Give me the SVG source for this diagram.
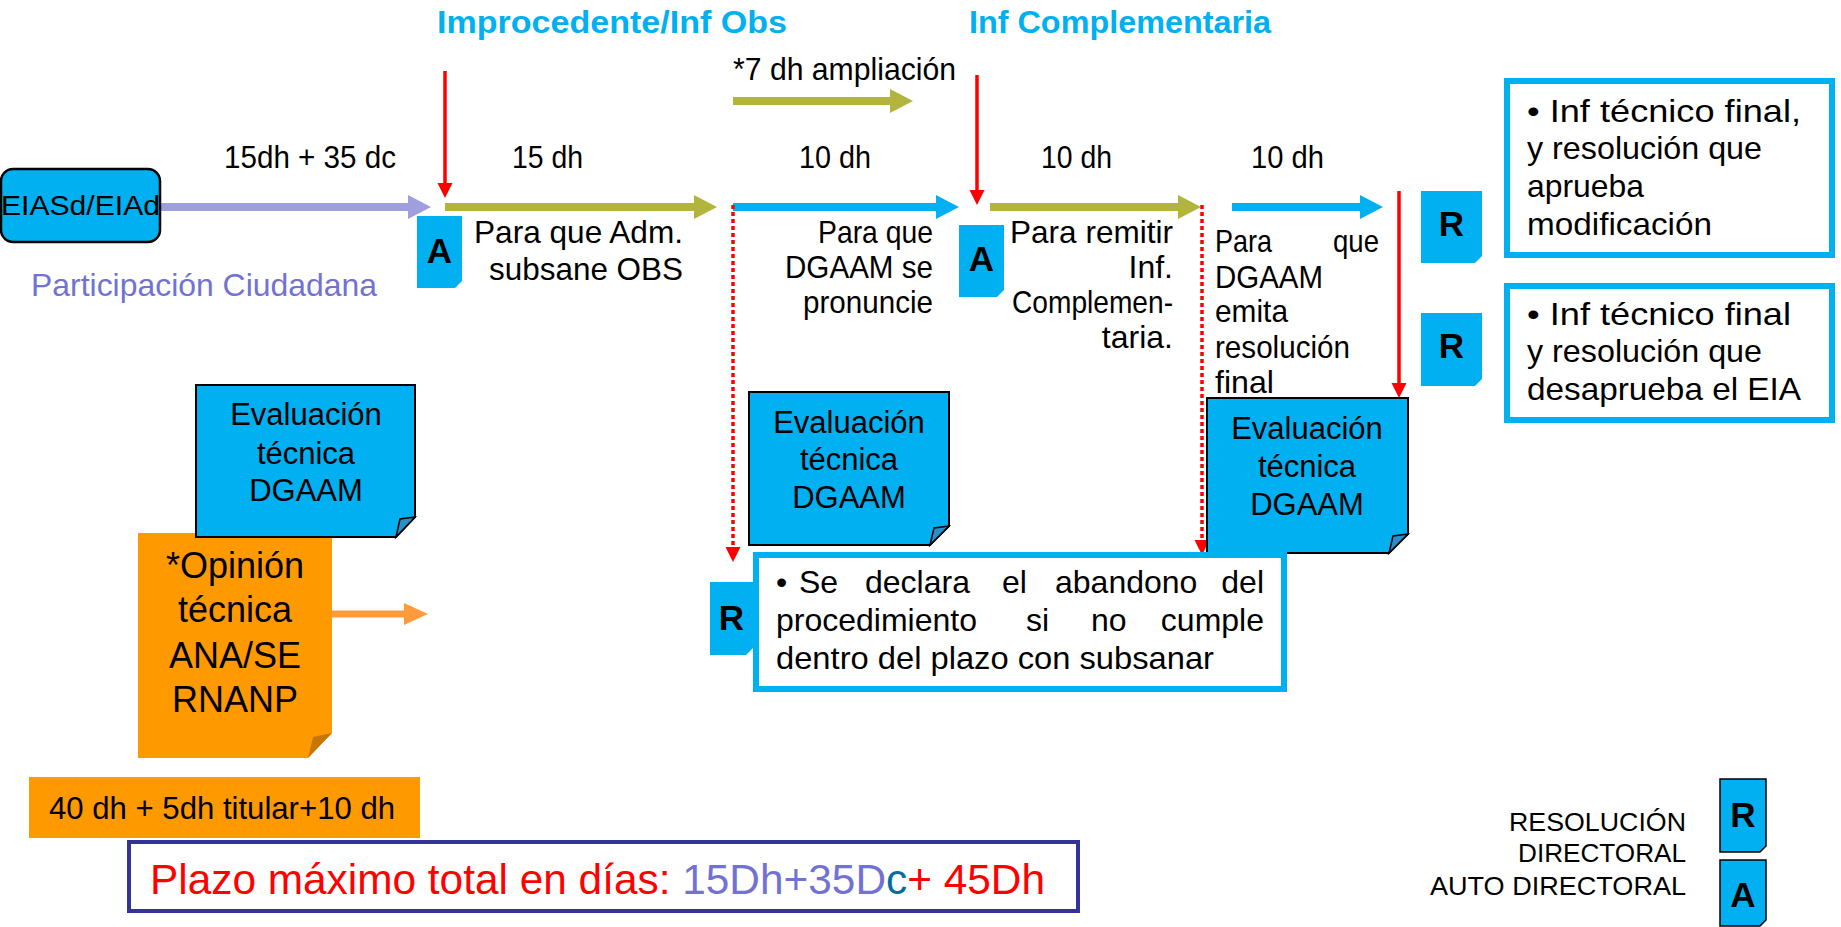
<svg xmlns="http://www.w3.org/2000/svg" width="1841" height="927" viewBox="0 0 1841 927">
<style>
text{font-family:"Liberation Sans",Arial,sans-serif}
.t{font-size:32px;fill:#000}
.e{text-anchor:end}
.hd{font-size:32px;font-weight:bold;fill:#00B0F0}
.ev{font-size:31px;fill:#000;text-anchor:middle}
.op{font-size:36px;fill:#000;text-anchor:middle}
.lt{font-size:35px;font-weight:bold;fill:#000;text-anchor:middle}
.lg{font-size:25px;fill:#000}
.blue{fill:#00B0F0}
.note{fill:#00B0F0;stroke:#000;stroke-width:2}
.curl{fill:#2A8FC4;stroke:#000;stroke-width:1.5}
.frame{fill:#fff;stroke:#00B0F0;stroke-width:6}
.red{stroke:#FF0000;stroke-width:3.5;fill:none}
.dot{stroke:#FF0000;stroke-width:3.5;stroke-dasharray:4 3;fill:none}
.olive{fill:#B2B43C}
.lav{fill:#9F9FE0}
</style>
<defs>
<marker id="redHead" markerUnits="userSpaceOnUse" markerWidth="18" markerHeight="18" viewBox="0 -9 18 18" refX="0" refY="0" orient="auto">
<path d="M0,-7.5 L15,0 L0,7.5 Z" fill="#FF0000"/>
</marker>
</defs>

<g id="headings">
<text class="hd" x="437" y="33" textLength="350" lengthAdjust="spacingAndGlyphs">Improcedente/Inf Obs</text>
<text class="hd" x="969" y="33" textLength="302" lengthAdjust="spacingAndGlyphs">Inf Complementaria</text>
</g>

<g id="connectors">
<path class="lav" d="M160,203 H408 V195 L431,207 L408,219 V211 H160 Z"/>
<path class="olive" d="M445,203 H694 V195 L717,207 L694,219 V211 H445 Z"/>
<path class="blue" d="M733,203 H936 V195 L959,207 L936,219 V211 H733 Z"/>
<path class="olive" d="M990,203 H1178 V195 L1201,207 L1178,219 V211 H990 Z"/>
<path class="blue" d="M1232,203 H1360 V195 L1383,207 L1360,219 V211 H1232 Z"/>
<path class="olive" d="M733,97 H890 V89 L913,101 L890,113 V105 H733 Z"/>
<path fill="#FF9B3D" d="M332,610.5 H404 V603 L428,614 L404,625 V617.5 H332 Z"/>
<line class="red" x1="445" y1="71" x2="445" y2="183" marker-end="url(#redHead)"/>
<line class="red" x1="977" y1="75" x2="977" y2="190" marker-end="url(#redHead)"/>
<line class="red" x1="1399" y1="191" x2="1399" y2="383" marker-end="url(#redHead)"/>
<line class="dot" x1="733" y1="205" x2="733" y2="547" marker-end="url(#redHead)"/>
<line class="dot" x1="1202" y1="205" x2="1202" y2="540" marker-end="url(#redHead)"/>
</g>

<g id="labels">
<text class="t" x="733" y="80" textLength="223" lengthAdjust="spacingAndGlyphs">*7 dh ampliación</text>
<text class="t" x="224" y="168" textLength="172" lengthAdjust="spacingAndGlyphs">15dh + 35 dc</text>
<text class="t" x="512" y="168" textLength="71" lengthAdjust="spacingAndGlyphs">15 dh</text>
<text class="t" x="799" y="168" textLength="72" lengthAdjust="spacingAndGlyphs">10 dh</text>
<text class="t" x="1041" y="168" textLength="71" lengthAdjust="spacingAndGlyphs">10 dh</text>
<text class="t" x="1251" y="168" textLength="73" lengthAdjust="spacingAndGlyphs">10 dh</text>
<text class="t" x="31" y="296" style="fill:#7272D2" textLength="346" lengthAdjust="spacingAndGlyphs">Participación Ciudadana</text>
<text class="t" x="474" y="243" textLength="209" lengthAdjust="spacingAndGlyphs">Para que Adm.</text>
<text class="t" x="489" y="280" textLength="194" lengthAdjust="spacingAndGlyphs">subsane OBS</text>
<text class="t" x="818" y="243" textLength="115" lengthAdjust="spacingAndGlyphs">Para que</text>
<text class="t" x="785" y="278" textLength="148" lengthAdjust="spacingAndGlyphs">DGAAM se</text>
<text class="t" x="803" y="313" textLength="130" lengthAdjust="spacingAndGlyphs">pronuncie</text>
<text class="t" x="1010" y="243" textLength="163" lengthAdjust="spacingAndGlyphs">Para remitir</text>
<text class="t e" x="1173" y="278">Inf.</text>
<text class="t" x="1012" y="313" textLength="161" lengthAdjust="spacingAndGlyphs">Complemen-</text>
<text class="t e" x="1173" y="348">taria.</text>
<text class="t" x="1215" y="252" textLength="57" lengthAdjust="spacingAndGlyphs">Para</text>
<text class="t" x="1333" y="252" textLength="46" lengthAdjust="spacingAndGlyphs">que</text>
<text class="t" x="1215" y="288" textLength="108" lengthAdjust="spacingAndGlyphs">DGAAM</text>
<text class="t" x="1215" y="322" textLength="73" lengthAdjust="spacingAndGlyphs">emita</text>
<text class="t" x="1215" y="358" textLength="135" lengthAdjust="spacingAndGlyphs">resolución</text>
<text class="t" x="1215" y="393" textLength="59" lengthAdjust="spacingAndGlyphs">final</text>
</g>

<g id="node-eia">
<rect x="1" y="169" width="159" height="73" rx="12" fill="#00B0F0"/>
<text x="1" y="215" font-size="28" fill="#000" textLength="159" lengthAdjust="spacingAndGlyphs">EIASd/EIAd</text>
<rect x="1" y="169" width="159" height="73" rx="12" fill="none" stroke="#000" stroke-width="2.5"/>
</g>

<g id="node-a1">
<path class="blue" d="M417,216 H462 V281 L455,288 H417 Z"/>
<text class="lt" x="439.5" y="263">A</text>
</g>
<g id="node-a2">
<path class="blue" d="M959,225 H1004 V290 L997,297 H959 Z"/>
<text class="lt" x="981.5" y="271">A</text>
</g>

<g id="node-r1">
<path class="blue" d="M1421,191 H1482 V256 L1475,263 H1421 Z"/>
<text class="lt" x="1451.5" y="236">R</text>
</g>
<g id="node-r2">
<path class="blue" d="M1421,313 H1482 V379 L1475,386 H1421 Z"/>
<text class="lt" x="1451.5" y="358">R</text>
</g>

<g id="node-aprueba">
<rect class="frame" x="1507" y="81" width="325" height="174"/>
<text class="t" x="1527" y="122" textLength="274" lengthAdjust="spacingAndGlyphs">• Inf técnico final,</text>
<text class="t" x="1527" y="159" textLength="235" lengthAdjust="spacingAndGlyphs">y resolución que</text>
<text class="t" x="1527" y="197" textLength="117" lengthAdjust="spacingAndGlyphs">aprueba</text>
<text class="t" x="1527" y="235" textLength="185" lengthAdjust="spacingAndGlyphs">modificación</text>
</g>
<g id="node-desaprueba">
<rect class="frame" x="1507" y="286" width="325" height="134"/>
<text class="t" x="1527" y="325" textLength="264" lengthAdjust="spacingAndGlyphs">• Inf técnico final</text>
<text class="t" x="1527" y="362" textLength="235" lengthAdjust="spacingAndGlyphs">y resolución que</text>
<text class="t" x="1527" y="400" textLength="274" lengthAdjust="spacingAndGlyphs">desaprueba el EIA</text>
</g>

<g id="node-opinion">
<path fill="#FF9900" d="M138,533 H332 V733 L308,758 H138 Z"/>
<path fill="#C77700" d="M308,758 L313,737 L332,733 Z"/>
<text class="op" x="235" y="578">*Opinión</text>
<text class="op" x="235" y="622">técnica</text>
<text class="op" x="235" y="668">ANA/SE</text>
<text class="op" x="235" y="712">RNANP</text>
</g>

<g id="node-eval1">
<path class="note" d="M196,385 H415 V517 L396,537 H196 Z"/>
<path class="curl" d="M396,537 L400,519 L415,517 Z"/>
<text class="ev" x="306" y="425">Evaluación</text>
<text class="ev" x="306" y="464">técnica</text>
<text class="ev" x="306" y="501">DGAAM</text>
</g>
<g id="node-eval2">
<path class="note" d="M749,392 H949 V526 L930,545 H749 Z"/>
<path class="curl" d="M930,545 L934,528 L949,526 Z"/>
<text class="ev" x="849" y="433">Evaluación</text>
<text class="ev" x="849" y="470">técnica</text>
<text class="ev" x="849" y="508">DGAAM</text>
</g>
<g id="node-eval3">
<path class="note" d="M1207,398 H1408 V534 L1389,553 H1207 Z"/>
<path class="curl" d="M1389,553 L1393,536 L1408,534 Z"/>
<text class="ev" x="1307" y="439">Evaluación</text>
<text class="ev" x="1307" y="477">técnica</text>
<text class="ev" x="1307" y="515">DGAAM</text>
</g>

<g id="node-r3">
<path class="blue" d="M710,582 H753 V648 L746,655 H710 Z"/>
<text class="lt" x="731.5" y="630">R</text>
</g>
<g id="node-abandono">
<rect class="frame" x="756" y="555" width="528" height="134"/>
<text class="t" y="593"><tspan x="776">•</tspan><tspan x="799">Se</tspan><tspan x="865">declara</tspan><tspan x="1002">el</tspan><tspan x="1055">abandono</tspan><tspan x="1264" text-anchor="end">del</tspan></text>
<text class="t" y="631"><tspan x="776">procedimiento</tspan><tspan x="1026">si</tspan><tspan x="1091">no</tspan><tspan x="1264" text-anchor="end">cumple</tspan></text>
<text class="t" x="776" y="669" textLength="438" lengthAdjust="spacingAndGlyphs">dentro del plazo con subsanar</text>
</g>

<g id="node-plazo-opinion">
<rect x="29" y="777" width="391" height="61" fill="#FF9900"/>
<text class="t" x="49" y="819" textLength="346" lengthAdjust="spacingAndGlyphs">40 dh + 5dh titular+10 dh</text>
</g>
<g id="node-plazo-total">
<rect x="129" y="842" width="949" height="69" fill="#fff" stroke="#333399" stroke-width="4"/>
<text x="150" y="894" font-size="42" textLength="895" lengthAdjust="spacingAndGlyphs"><tspan fill="#FF0000">Plazo máximo total en días: </tspan><tspan fill="#7272D2">15Dh+35D</tspan><tspan fill="#006E9E">c</tspan><tspan fill="#FF0000">+ 45Dh</tspan></text>
</g>

<g id="legend">
<text class="lg" x="1509" y="831" textLength="177" lengthAdjust="spacingAndGlyphs">RESOLUCIÓN</text>
<text class="lg" x="1518" y="862" textLength="168" lengthAdjust="spacingAndGlyphs">DIRECTORAL</text>
<text class="lg" x="1430" y="895" textLength="256" lengthAdjust="spacingAndGlyphs">AUTO DIRECTORAL</text>
<path fill="#00B0F0" stroke="#000" stroke-width="1.5" d="M1720,779 H1766 V846 L1760,852 H1720 Z"/>
<text class="lt" x="1743" y="827">R</text>
<path fill="#00B0F0" stroke="#000" stroke-width="1.5" d="M1720,860 H1766 V920 L1760,926 H1720 Z"/>
<text class="lt" x="1743" y="907">A</text>
</g>
</svg>
